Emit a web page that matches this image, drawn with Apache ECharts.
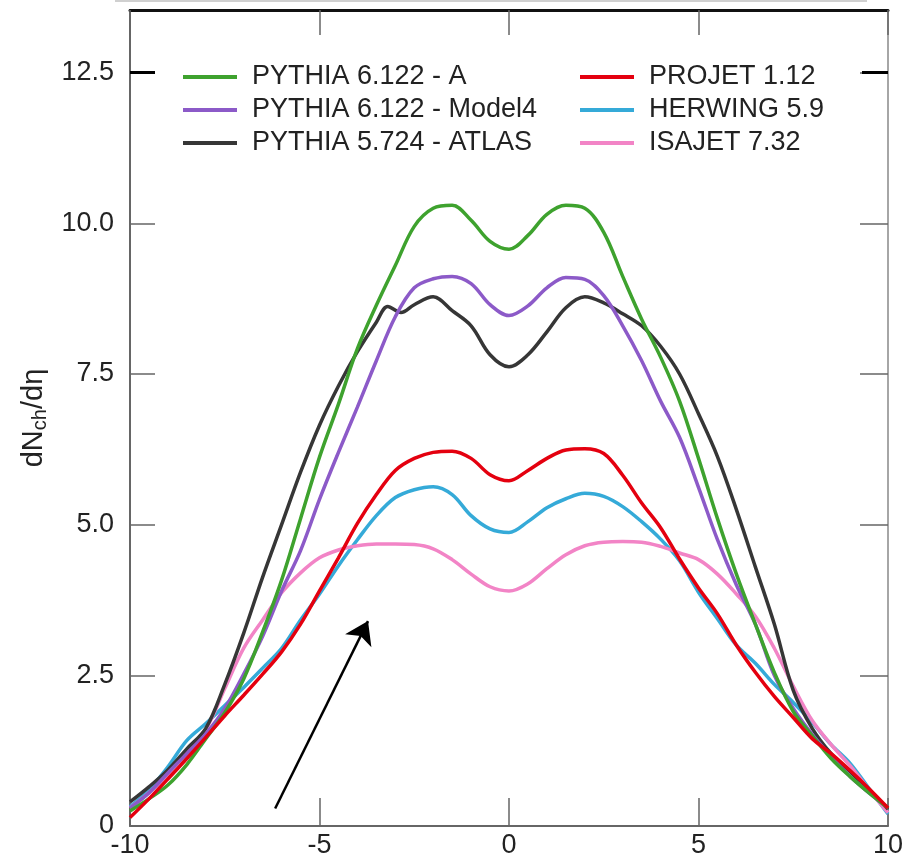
<!DOCTYPE html>
<html>
<head>
<meta charset="utf-8">
<script src="https://cdn.jsdelivr.net/npm/echarts@6/dist/echarts.min.js"></script>
<style>
html,body{margin:0;padding:0;background:#fff;}
#chart{width:915px;height:864px;}
</style>
</head>
<body>
<div id="chart"></div>
<script>
// pseudorapidity grid
const eta = [-10,-9.5,-9,-8.5,-8,-7.5,-7,-6.5,-6,-5.5,-5,-4.5,-4,-3.5,-3,-2.5,-2,-1.5,-1,-0.5,0,0.5,1,1.5,2,2.5,3,3.5,4,4.5,5,5.5,6,6.5,7,7.5,8,8.5,9,9.5,10];
const etaAtlas = [-10,-9.5,-9,-8.5,-8,-7.5,-7,-6.5,-6,-5.5,-5,-4.5,-4,-3.5,-3.2,-2.85,-2.5,-2,-1.5,-1,-0.5,0,0.5,1,1.5,2,2.5,3,3.5,4,4.5,5,5.5,6,6.5,7,7.5,8,8.5,9,9.5,10];

// dNch/deta values
const pythiaA = [0.25,0.45,0.68,1.02,1.45,1.88,2.44,3.22,4.08,5.1,6.12,7.0,7.92,8.64,9.3,9.95,10.25,10.3,10.05,9.7,9.57,9.8,10.15,10.3,10.25,9.85,9.12,8.41,7.78,7.05,6.1,5.1,4.18,3.35,2.55,1.9,1.5,1.12,0.82,0.55,0.3];
const pythiaModel4 = [0.3,0.55,0.88,1.2,1.53,1.95,2.52,3.15,3.9,4.57,5.42,6.2,6.95,7.72,8.45,8.93,9.08,9.12,9.0,8.65,8.47,8.63,8.93,9.1,9.07,8.8,8.3,7.72,7.05,6.45,5.62,4.75,4.0,3.35,2.5,1.95,1.52,1.15,0.82,0.55,0.3];
const pythiaAtlas = [0.4,0.65,0.93,1.28,1.62,2.35,3.2,4.13,5.0,5.87,6.65,7.3,7.87,8.36,8.62,8.52,8.65,8.78,8.55,8.3,7.82,7.62,7.82,8.2,8.6,8.78,8.68,8.5,8.3,7.96,7.5,6.84,6.13,5.25,4.3,3.35,2.25,1.62,1.2,0.9,0.6,0.28];
const projet = [0.14,0.45,0.78,1.12,1.47,1.83,2.17,2.52,2.89,3.35,3.9,4.45,5.02,5.5,5.9,6.1,6.2,6.22,6.1,5.83,5.73,5.9,6.1,6.24,6.26,6.18,5.82,5.36,4.95,4.43,3.95,3.52,3.0,2.55,2.15,1.8,1.45,1.2,0.92,0.62,0.3];
const herwig = [0.32,0.6,0.98,1.42,1.7,2.0,2.3,2.62,2.95,3.42,3.85,4.32,4.75,5.15,5.45,5.58,5.63,5.5,5.15,4.93,4.87,5.05,5.28,5.43,5.52,5.47,5.3,5.05,4.76,4.4,3.88,3.44,3.0,2.7,2.35,2.05,1.72,1.35,1.04,0.62,0.2];
const isajet = [0.3,0.55,0.85,1.25,1.6,2.28,2.95,3.42,3.87,4.2,4.45,4.58,4.65,4.68,4.68,4.67,4.6,4.42,4.18,3.97,3.9,4.02,4.27,4.5,4.65,4.71,4.72,4.71,4.64,4.53,4.42,4.18,3.85,3.48,2.95,2.32,1.75,1.35,1.0,0.6,0.22];

// legend names
const namesLeft = ['PYTHIA 6.122 - A','PYTHIA 6.122 - Model4','PYTHIA 5.724 - ATLAS'];
const namesRight = ['PROJET 1.12','HERWING 5.9','ISAJET 7.32'];

// axis ticks
const xTicks = [-10,-5,0,5,10];
const yTicks = [0,2.5,5,7.5,10,12.5];
const yStrongTick = [12.5];

// annotation arrow (data coordinates: tail, head)
const arrowTail = [-6.17, 0.29];
const arrowHead = [-3.72, 3.4];

const FONT = '"Liberation Sans", Arial, Helvetica, sans-serif';
const pair = (xs, ys) => xs.map((x, i) => [x, ys[i]]);

const chart = echarts.init(document.getElementById('chart'));

function line(name, xs, ys, color, z) {
  return {
    name, type: 'line', data: pair(xs, ys), smooth: 0.35, symbol: 'none',
    lineStyle: { color, width: 3.5 }, itemStyle: { color }, z,
    xAxisIndex: 0, yAxisIndex: 0, silent: true
  };
}

const yMax = 13.54;
const legendBase = {
  orient: 'vertical', top: 62, itemWidth: 54, itemHeight: 4, itemGap: 3, padding: 0,
  icon: 'rect',
  textStyle: { fontSize: 27, color: '#222', fontFamily: FONT, lineHeight: 30, padding: [0,0,0,10] },
  selectedMode: false
};
const option = {
  animation: false,
  backgroundColor: '#fff',
  textStyle: { fontFamily: FONT },
  grid: { left: 130, right: 27, top: 10, bottom: 38, containLabel: false },
  legend: [
    Object.assign({}, legendBase, { data: namesLeft, left: 183 }),
    Object.assign({}, legendBase, { data: namesRight, left: 580 })
  ],
  xAxis: [
    {
      type: 'value', min: xTicks[0], max: xTicks[xTicks.length-1], interval: 5, position: 'bottom',
      axisLine: { show: true, onZero: false, lineStyle: { color: '#666', width: 2 } },
      axisTick: { show: true, inside: true, length: 28, lineStyle: { color: '#666', width: 1.5 } },
      axisLabel: { fontSize: 27, color: '#222', margin: 6, fontFamily: FONT },
      splitLine: { show: false }
    },
    {
      type: 'value', min: xTicks[0], max: xTicks[xTicks.length-1], interval: 5, position: 'top',
      axisLine: { show: true, onZero: false, lineStyle: { color: '#111', width: 3 } },
      axisTick: { show: true, inside: true, length: 25, lineStyle: { color: '#666', width: 1.5 } },
      axisLabel: { show: false }, splitLine: { show: false }, z: 5
    }
  ],
  yAxis: [
    {
      type: 'value', min: 0, max: yMax, position: 'left',
      axisLine: { show: true, onZero: false, lineStyle: { color: '#666', width: 2 } },
      axisTick: { show: true, inside: true, length: 25, customValues: yTicks, lineStyle: { color: '#666', width: 1.5 } },
      axisLabel: {
        fontSize: 27, color: '#222', margin: 16, fontFamily: FONT, customValues: yTicks,
        formatter: v => (v === 0 ? '0' : v.toFixed(1))
      },
      splitLine: { show: false },
      name: '{a|dN}{b|ch}{a|/dη}', nameLocation: 'middle', nameGap: 68, nameRotate: 90,
      nameTextStyle: {
        rich: {
          a: { fontSize: 29, color: '#222', fontFamily: FONT, lineHeight: 34, verticalAlign: 'middle' },
          b: { fontSize: 20, color: '#222', fontFamily: FONT, lineHeight: 20, verticalAlign: 'bottom' }
        }
      }
    },
    {
      type: 'value', min: 0, max: yMax, position: 'right',
      axisLine: { show: true, onZero: false, lineStyle: { color: '#888', width: 1.5 } },
      axisTick: { show: true, inside: true, length: 28, customValues: yTicks, lineStyle: { color: '#666', width: 1.5 } },
      axisLabel: { show: false }, splitLine: { show: false }
    },
    {
      type: 'value', min: 0, max: yMax, position: 'left',
      axisLine: { show: false, onZero: false },
      axisTick: { show: true, inside: true, length: 25, customValues: yStrongTick, lineStyle: { color: '#000', width: 3 } },
      axisLabel: { show: false }, splitLine: { show: false }
    },
    {
      type: 'value', min: 0, max: yMax, position: 'right',
      axisLine: { show: false, onZero: false },
      axisTick: { show: true, inside: true, length: 26, customValues: yStrongTick, lineStyle: { color: '#000', width: 3 } },
      axisLabel: { show: false }, splitLine: { show: false }
    }
  ],
  graphic: [
    { type: 'line', shape: { x1: 115, y1: 1, x2: 867, y2: 1 }, style: { stroke: '#d0d0d0', lineWidth: 2 }, silent: true }
  ],
  series: [
    line(namesRight[1], eta, herwig, '#35aad8', 2),
    line(namesRight[2], eta, isajet, '#f284c6', 3),
    line(namesLeft[2], etaAtlas, pythiaAtlas, '#363636', 4),
    line(namesLeft[1], eta, pythiaModel4, '#8c5ac8', 5),
    line(namesLeft[0], eta, pythiaA, '#3ea22e', 6),
    Object.assign(line(namesRight[0], eta, projet, '#e4000f', 7), {
      markLine: {
        silent: true, symbol: ['none', 'arrow'], symbolSize: 22, animation: false,
        lineStyle: { color: '#000', width: 2.5, type: 'solid' },
        label: { show: false }, emphasis: { disabled: true },
        data: [[{ coord: arrowTail }, { coord: arrowHead }]]
      }
    })
  ]
};
chart.setOption(option);
</script>
</body>
</html>
